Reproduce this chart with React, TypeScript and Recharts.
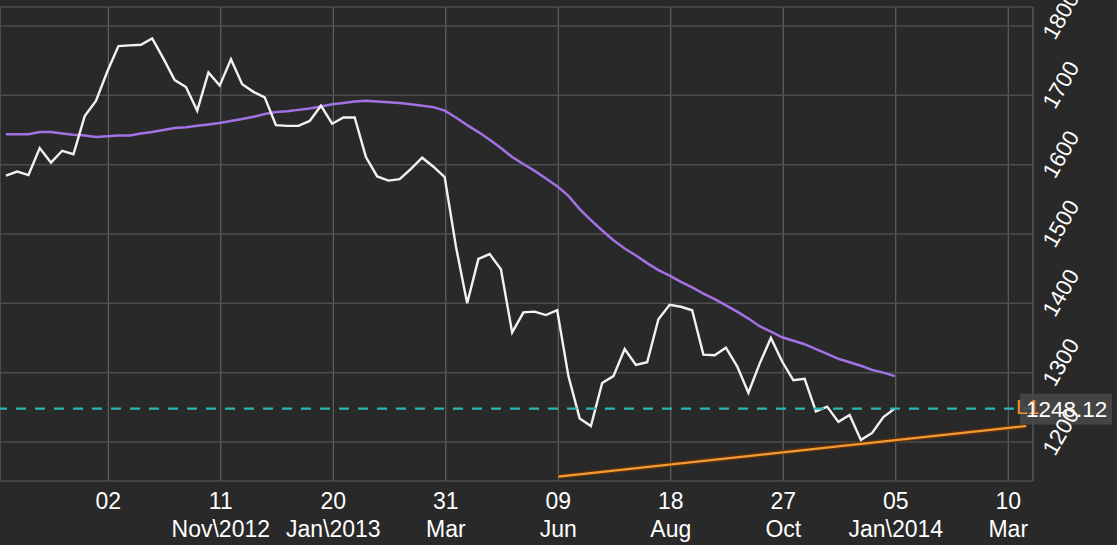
import React from 'react';
import { LineChart, Line, XAxis, YAxis, CartesianGrid, ReferenceLine } from 'recharts';

// weekly closes, index 0 = first week shown
const price = [
  1584, 1590, 1585, 1624, 1603, 1620, 1615, 1670, 1692, 1734,
  1771, 1772, 1773, 1782, 1753, 1722, 1712, 1678, 1733, 1714,
  1752, 1716, 1705, 1697, 1657, 1656, 1656, 1663, 1685, 1659,
  1668, 1668, 1611, 1583, 1577, 1579, 1594, 1610, 1597, 1582,
  1482, 1400, 1464, 1471, 1449, 1358, 1387, 1388, 1383, 1390,
  1295, 1234, 1223, 1285, 1295, 1334, 1311, 1315, 1377, 1398,
  1395, 1390, 1326, 1325, 1336, 1309, 1271, 1313, 1350, 1316,
  1289, 1291, 1244, 1251, 1229, 1239, 1203, 1213, 1236, 1248.12,
];

const movingAvg = [
  1644, 1644, 1644, 1647, 1647, 1645, 1643, 1642, 1640, 1641,
  1642, 1642, 1645, 1647, 1650, 1653, 1654, 1656, 1658, 1660,
  1663, 1666, 1669, 1673, 1676, 1677, 1679, 1681, 1684, 1687,
  1689, 1691, 1692, 1691, 1690, 1689, 1687, 1685, 1683, 1678,
  1668, 1657, 1647, 1636, 1624, 1611, 1601, 1591, 1580, 1569,
  1555, 1536, 1520, 1505, 1491, 1479, 1469, 1458, 1448, 1440,
  1431, 1423, 1414, 1406, 1397, 1388, 1378, 1367, 1359, 1351,
  1346, 1341, 1334, 1327, 1320, 1315, 1310, 1304, 1300, 1295,
];

// support line L1
const trendWeeks = [49.1, 90.7];
const trendValues = [1150, 1223];

const lastPrice = 1248.12;

const xTicks = [9.1, 19.1, 29.1, 39.1, 49.1, 59.1, 69.1, 79.1, 89.1];
const xTickDays = ['02', '11', '20', '31', '09', '18', '27', '05', '10'];
const xTickMonths = ['', 'Nov\\2012', 'Jan\\2013', 'Mar', 'Jun', 'Aug', 'Oct', 'Jan\\2014', 'Mar'];
const yTicks = [1200, 1300, 1400, 1500, 1600, 1700, 1800];

const data = price.map((v, i) => ({ t: i, price: v, ma: movingAvg[i] }));
const trendData = trendWeeks.map((t, i) => ({ t, trend: trendValues[i] }));

const FONT = "'Liberation Sans', Arial, sans-serif";

const XTick = (props: any) => {
  const { x, y, payload } = props;
  const i = xTicks.indexOf(payload.value);
  return (
    <text x={x} y={y} textAnchor="middle" fill="#ffffff" fontSize={23} fontFamily={FONT}>
      <tspan x={x} dy={20}>{xTickDays[i]}</tspan>
      <tspan x={x} dy={28}>{xTickMonths[i]}</tspan>
    </text>
  );
};

const YTick = (props: any) => {
  const { x, y, payload } = props;
  const px = x + 14;
  const py = y + 15;
  return (
    <text
      x={px}
      y={py}
      transform={`rotate(-60, ${px}, ${py})`}
      textAnchor="start"
      fill="#ffffff"
      fontSize={22.5}
      fontFamily={FONT}
    >
      {payload.value}
    </text>
  );
};

const PriceTag = (props: any) => {
  const vb = props.viewBox;
  const right = vb.x + vb.width;
  return (
    <g>
      <rect x={right - 13} y={vb.y - 15} width={92} height={31} fill="#4a4949" fillOpacity={0.85} />
      <text x={right - 17} y={vb.y + 5} fill="#f0922e" fontSize={21} fontFamily={FONT}>
        L1
      </text>
      <text x={right - 7} y={vb.y + 8.5} fill="#ffffff" fontSize={22.5} fontFamily={FONT}>
        {lastPrice.toFixed(2)}
      </text>
    </g>
  );
};

export default function App() {
  return (
    <div style={{ position: 'fixed', left: 0, top: 0, width: 1117, height: 545, background: '#2a2929' }}>
      <LineChart width={1117} height={545} data={data} margin={{ top: 7, right: 0, bottom: 0, left: 0 }}>
        <CartesianGrid horizontal={false} stroke="#6c6c6c" strokeWidth={1} />
        <CartesianGrid vertical={false} stroke="#4d4d4d" strokeWidth={1.5} />
        <XAxis
          dataKey="t"
          type="number"
          domain={[-0.53, 91.3]}
          ticks={xTicks}
          interval={0}
          allowDataOverflow
          height={64}
          tickLine={false}
          axisLine={false}
          tick={<XTick />}
        />
        <YAxis
          orientation="right"
          type="number"
          domain={[1143.7, 1827.4]}
          ticks={yTicks}
          allowDataOverflow
          width={84}
          tickLine={false}
          axisLine={false}
          tick={<YTick />}
        />
        <Line
          data={trendData}
          dataKey="trend"
          stroke="#5a2f0c"
          strokeWidth={5}
          dot={false}
          isAnimationActive={false}
        />
        <Line
          data={trendData}
          dataKey="trend"
          stroke="#f39a36"
          strokeWidth={2.2}
          dot={false}
          isAnimationActive={false}
        />
        <Line dataKey="ma" stroke="#a072e4" strokeWidth={2.5} dot={false} isAnimationActive={false} />
        <Line dataKey="price" stroke="#f2f2f2" strokeWidth={2.4} dot={false} isAnimationActive={false} />
        <ReferenceLine
          y={lastPrice}
          stroke="#2eb4b0"
          strokeWidth={2.2}
          strokeDasharray="10 9"
          label={<PriceTag />}
        />
      </LineChart>
    </div>
  );
}
